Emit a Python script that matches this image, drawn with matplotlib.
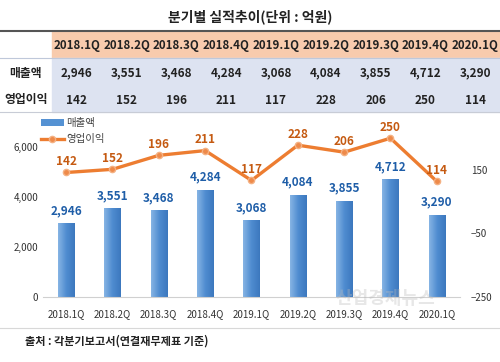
import numpy as np
import matplotlib.pyplot as plt
from matplotlib.patches import Rectangle
from matplotlib.lines import Line2D
from matplotlib.colors import LinearSegmentedColormap

plt.rcParams['font.family'] = ['Noto Sans CJK KR', 'DejaVu Sans']

quarters = ['2018.1Q', '2018.2Q', '2018.3Q', '2018.4Q', '2019.1Q',
            '2019.2Q', '2019.3Q', '2019.4Q', '2020.1Q']
sales = [2946, 3551, 3468, 4284, 3068, 4084, 3855, 4712, 3290]
profit = [142, 152, 196, 211, 117, 228, 206, 250, 114]

W, H = 500, 362
fig = plt.figure(figsize=(5, 3.62), dpi=100)

def fx(px):
    return px / W

def fy(py):
    return 1 - py / H

# title
fig.text(0.5, fy(17), '분기별 실적추이(단위 : 억원)', ha='center', va='center',
         fontsize=10, fontweight='bold', color='#222222')

# table backgrounds
fig.patches.append(Rectangle((fx(52), fy(58)), fx(448), fy(31) - fy(58),
                             transform=fig.transFigure, color='#F8CBAD', zorder=0))
fig.patches.append(Rectangle((fx(52), fy(112)), fx(448), fy(58) - fy(112),
                             transform=fig.transFigure, color='#DDE3F1', zorder=0))
fig.lines.append(Line2D([0, 1], [fy(31), fy(31)], transform=fig.transFigure,
                        color='#555555', lw=1.5))
fig.lines.append(Line2D([0, 1], [fy(58), fy(58)], transform=fig.transFigure,
                        color='#BFC8DA', lw=0.8))
fig.lines.append(Line2D([0, 1], [fy(112), fy(112)], transform=fig.transFigure,
                        color='#C8CCD6', lw=0.8))

col_w = 448 / len(quarters)
for i, q in enumerate(quarters):
    cx = fx(52 + col_w * (i + 0.5))
    fig.text(cx, fy(45), q, ha='center', va='center', fontsize=8.3,
             fontweight='bold', color='#222222')
    fig.text(cx, fy(73), f'{sales[i]:,}', ha='center', va='center',
             fontsize=8.5, fontweight='bold', color='#222222')
    fig.text(cx, fy(100), f'{profit[i]:,}', ha='center', va='center',
             fontsize=8.5, fontweight='bold', color='#222222')
fig.text(fx(26), fy(73), '매출액', ha='center', va='center', fontsize=8.5,
         fontweight='bold', color='#222222')
fig.text(fx(26), fy(100), '영업이익', ha='center', va='center', fontsize=8.5,
         fontweight='bold', color='#222222')

# chart
ax = fig.add_axes([fx(43), fy(297), fx(460) - fx(43), fy(122) - fy(297)])
x = np.arange(len(quarters))
bars = ax.bar(x, sales, width=0.35, color='#5592D3', edgecolor='none',
              label='매출액', zorder=2)
grad = LinearSegmentedColormap.from_list('bar', ['#86B4E4', '#4F8CD0', '#3C78BE'])
for b in bars:
    bx, by = b.get_x(), b.get_y()
    bw, bh = b.get_width(), b.get_height()
    im = ax.imshow(np.linspace(0, 1, 64).reshape(1, -1), cmap=grad,
                   extent=[bx, bx + bw, by, by + bh], aspect='auto', zorder=2.1)
    im.set_clip_path(b)
for xi, v in zip(x, sales):
    ax.text(xi, v + 250, f'{v:,}', ha='center', va='bottom', fontsize=8.5,
            fontweight='bold', color='#1F5EA8')
ax.set_xlim(-0.5, len(quarters) - 0.5)
ax.set_ylim(0, 7000)
ax.set_yticks([0, 2000, 4000, 6000])
ax.set_yticklabels([f'{t:,}' for t in [0, 2000, 4000, 6000]])
ax.set_xticks(x)
ax.set_xticklabels(quarters)
ax.tick_params(axis='both', length=0, labelsize=7, colors='#333333')
ax.tick_params(axis='x', pad=9)
for s in ['top', 'right', 'left']:
    ax.spines[s].set_visible(False)
ax.spines['bottom'].set_color('#D0D0D0')

ax2 = ax.twinx()
ax2.plot(x, profit, color='#ED7D31', lw=2.4, marker='o', markersize=4.5,
         markerfacecolor='#EE8A4A', markeredgecolor='#F4B183', label='영업이익',
         zorder=3)
for xi, v in zip(x, profit):
    ax2.text(xi, v + 14, str(v), ha='center', va='bottom', fontsize=8.5,
             fontweight='bold', color='#C55A11')
ax2.set_ylim(-250, 301)
ax2.set_yticks([-250, -50, 150])
ax2.tick_params(axis='y', length=0, labelsize=7, colors='#333333', pad=8)
for s in ax2.spines.values():
    s.set_visible(False)

h1, l1 = ax.get_legend_handles_labels()
h2, l2 = ax2.get_legend_handles_labels()
ax.legend(h1 + h2, l1 + l2, loc='upper left', bbox_to_anchor=(-0.015, 1.045),
          frameon=False, fontsize=7.5, handlelength=2.2, handleheight=0.55,
          labelspacing=0.55, borderaxespad=0, handletextpad=0.2,
          labelcolor='#444444')

# watermark
fig.text(fx(385), fy(299), '산업경제뉴스', ha='center', va='center',
         fontsize=13, color='#BBBBBB', alpha=0.35, fontweight='bold')

# source
fig.lines.append(Line2D([0, 1], [fy(328), fy(328)], transform=fig.transFigure,
                        color='#D8D8D8', lw=0.8))
fig.text(fx(25), fy(341), '출처 : 각분기보고서(연결재무제표 기준)', ha='left',
         va='center', fontsize=8, fontweight='bold', color='#222222')

fig.savefig('out.png', dpi=100)
